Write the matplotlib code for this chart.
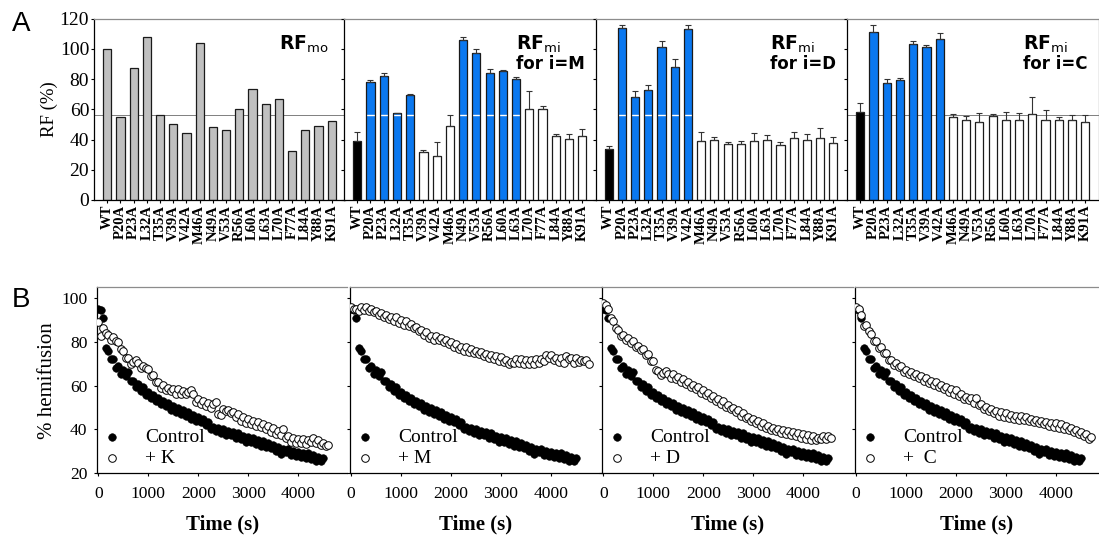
import matplotlib
matplotlib.use("Agg")
import matplotlib.pyplot as plt
import numpy as np

plt.rcParams['font.family'] = 'serif'
plt.rcParams['font.serif'] = ['Liberation Serif', 'DejaVu Serif']
plt.rcParams['mathtext.fontset'] = 'dejavusans'

# ---------------- panel A data ----------------
mutants = ['WT', 'P20A', 'P23A', 'L32A', 'T35A', 'V39A', 'V42A', 'M46A', 'N49A',
           'V53A', 'R56A', 'L60A', 'L63A', 'L70A', 'F77A', 'L84A', 'Y88A', 'K91A']

rf_mo = [100, 55, 87.5, 108, 56.5, 50.5, 44, 103.5, 48.5,
         46.5, 60, 73.5, 63.5, 66.5, 32.5, 46, 49, 52.5]

rf_m = [39.3, 78, 82, 57.3, 69.1, 32, 29.3, 48.9, 106,
        97.1, 84, 85.6, 80, 60, 60.2, 42.2, 40.4, 42.2]
rf_m_err = [5.6, 1.6, 2.0, 0.5, 1.3, 1.1, 9.1, 7.5, 2.0,
            2.7, 2.4, 0.3, 1.6, 11.8, 2.0, 1.4, 3.2, 4.9]
rf_m_kind = ['k', 'b', 'b', 'b', 'b', 'w', 'w', 'w', 'b',
             'b', 'b', 'b', 'b', 'w', 'w', 'w', 'w', 'w']

rf_d = [34, 114, 68.4, 72.9, 101, 87.8, 112.9, 39.1, 39.8,
        36.7, 36.7, 39.1, 39.8, 36.4, 40.7, 39.6, 41.3, 38]
rf_d_err = [1.6, 2.0, 3.6, 2.9, 4.0, 5.1, 2.7, 5.9, 1.8,
            1.5, 2.0, 5.1, 3.1, 1.8, 4.4, 4.0, 6.5, 3.6]
rf_d_kind = ['k', 'b', 'b', 'b', 'b', 'b', 'b', 'w', 'w',
             'w', 'w', 'w', 'w', 'w', 'w', 'w', 'w', 'w']

rf_c = [58.4, 110.9, 77.6, 79.3, 103.1, 101.1, 106.2, 54.7, 53.1,
        51.8, 55.6, 53.1, 53.1, 57.1, 52.7, 53.1, 53.1, 51.8]
rf_c_err = [5.6, 4.9, 2.2, 1.6, 1.8, 1.3, 4.0, 2.2, 2.5,
            5.8, 1.5, 5.3, 4.5, 11.3, 6.6, 1.6, 3.1, 4.4]
rf_c_kind = rf_d_kind

ref_level = 56

# ---------------- panel B data (% hemifusion, one point every 50 s) ----------------
dt = 50
control = [95, 94.5, 91, 77, 75.8, 72, 72.3, 68, 68.8, 65.5,
           67.2, 64.3, 66, 62, 62.3, 59.4, 60.8, 57.5, 59.2, 55.5,
           57.2, 54.5, 55.8, 53, 54.3, 51.4, 53.2, 50.5, 52.2, 49,
           50.8, 48, 49.8, 47, 48.8, 46, 47.8, 45, 46.8, 44,
           45.8, 43.4, 44.8, 42, 43.3, 40, 41.2, 39.5, 40.8, 38.5,
           40.2, 37.5, 39.2, 37.4, 38.8, 36, 38.2, 35.5, 37.2, 34.5,
           36.7, 34.4, 36.2, 33.5, 35.2, 32.5, 34.6, 32, 33.7, 31.4,
           32.7, 30, 32.2, 29, 31.2, 29.5, 31.2, 28.5, 30.2, 28,
           29.7, 27.4, 29.2, 27, 29.2, 26.5, 28.2, 25.6, 27.6, 25.6, 27]

plus_k = [89, 82.5, 86.5, 84, 83, 81, 82, 80.5, 80, 76.5,
          76, 72.5, 72.5, 70, 71, 71.5, 70.5, 68, 69, 68,
          67.5, 64.5, 65, 61.5, 61.5, 59, 60.5, 58, 59, 57.5,
          58.5, 56, 58.5, 56, 57.5, 56, 57, 58, 56, 52.5,
          54, 51.5, 53, 50.5, 52, 50, 51.5, 52.5, 47, 46.5,
          49.5, 48.5, 49, 47.5, 48, 45.5, 47, 44, 45.5, 43,
          45, 42.5, 44, 41.5, 43.5, 41, 42.5, 40, 41.5, 39,
          40.5, 38, 39.5, 37.5, 40, 36, 37, 34.5, 36, 34,
          35.5, 34, 35.5, 33.5, 35, 34.5, 36, 34, 35, 33, 34, 32.5, 33]

plus_m = [96, 95, 95, 94.2, 96, 94.5, 96, 94, 95, 93.8,
          94.2, 92.4, 93.3, 91.4, 92.3, 90.3, 91.5, 89.4, 91.2, 88.8,
          89.8, 87.8, 89.7, 87.3, 88.3, 86.2, 86.8, 84.8, 85.3, 83.3,
          84.3, 81.8, 82.8, 80.8, 82.8, 80.8, 81.8, 79.8, 80.8, 78.8,
          79.8, 77.8, 78.8, 76.8, 77.8, 75.8, 77.8, 75.3, 76.8, 74.8,
          75.8, 74.3, 75.3, 73.3, 74.3, 72.8, 73.8, 72.3, 73.3, 71.3,
          73.2, 70.8, 71.8, 69.8, 70.8, 70.2, 72.2, 70.3, 72.3, 69.8,
          71.8, 69.8, 71.8, 69.8, 72.3, 70.3, 72.3, 71.2, 73.8, 72.8,
          73.8, 71.8, 72.8, 70.8, 72.8, 70.3, 73.3, 72.2, 72.8, 70.3,
          72.8, 70.8, 71.8, 71.2, 71.8, 70]

plus_d = [97.5, 97, 95, 91, 89.5, 86.5, 85.5, 82.5, 83.3, 80.8,
          81.8, 79.3, 80.3, 77.8, 78.3, 76.3, 76.8, 73.8, 74.3, 71.3,
          71.3, 67.3, 66.8, 64.8, 65.8, 66.5, 65.3, 63.3, 65.3, 62.8,
          63.8, 61.8, 62.8, 60.8, 61.8, 59.3, 60.3, 58.3, 59.3, 56.8,
          57.8, 55.8, 56.8, 54.3, 55.3, 52.8, 53.8, 51.8, 52.8, 50.3,
          51.3, 49.3, 49.8, 47.8, 48.8, 46.3, 47.3, 45.3, 45.8, 43.8,
          44.8, 42.8, 43.8, 41.8, 42.8, 40.8, 41.8, 39.8, 40.8, 39.2,
          40.3, 38.3, 39.8, 37.8, 39.3, 37.3, 38.8, 36.8, 38.3, 36.3,
          37.8, 35.8, 37.3, 35.3, 37.2, 35.3, 36.3, 35.8, 36.8, 35.8, 36.8, 36]

plus_c = [96, 95, 92, 87, 87.5, 85, 83.5, 80.5, 80.3, 77.3,
          77.8, 74.8, 74.8, 71.8, 71.8, 69.3, 70.3, 68.3, 68.8, 66.3,
          67.3, 65.3, 66.3, 64.3, 65.3, 63.3, 64.3, 62.3, 63.3, 61.3,
          62.3, 60.3, 61.8, 59.3, 60.3, 58.3, 59.3, 57.3, 58.3, 56.3,
          57.8, 55.3, 56.3, 53.8, 54.8, 53.3, 54.3, 52.3, 54.3, 51.3,
          51.8, 49.3, 50.3, 48.3, 49.3, 47.3, 48.3, 46.3, 47.8, 45.8,
          47.3, 45.3, 46.8, 44.8, 46.3, 44.3, 46.3, 44.3, 45.8, 43.8,
          44.8, 43.3, 44.3, 42.8, 43.8, 42.3, 43.3, 41.8, 42.8, 41.3,
          42.8, 40.8, 42.3, 40.3, 41.8, 39.8, 40.8, 38.8, 39.8, 37.8,
          38.8, 36.8, 37.8, 35.8, 36.5]

treatments = [('+ K', plus_k), ('+ M', plus_m), ('+ D', plus_d), ('+  C', plus_c)]

# ---------------- layout (pixels of the 1099x538 picture) ----------------
W, H = 1099, 538
BLUE = '#0a78f0'
FACE = {'k': 'black', 'b': BLUE, 'w': 'white', 'g': '#c0c0c0'}

fig = plt.figure(figsize=(W / 100, H / 100), dpi=100)


# add an axes given its box in picture pixels
def px_axes(left, top, width, height):
    return fig.add_axes([left / W, 1 - (top + height) / H, width / W, height / H])


def style_spines(ax, right=False):
    ax.spines['top'].set_color('#8c8c8c')
    ax.spines['left'].set_color('black')
    ax.spines['bottom'].set_color('black')
    ax.spines['right'].set_visible(right)
    ax.spines['right'].set_color('#777777')
    for s in ax.spines.values():
        s.set_linewidth(0.9)


# one bar panel of A
def bar_panel(ax, values, kinds, err=None, white_line=False):
    x = np.arange(len(values))
    faces = [FACE[k] for k in kinds]
    if white_line:
        ax.bar(x, values, width=0.62, color=faces, linewidth=0, zorder=2)
        ax.axhline(ref_level, color='white', lw=1.0, zorder=2.5)
        ax.bar(x, values, width=0.62, fill=False, edgecolor='#1a1a1a', linewidth=0.9, zorder=3)
    else:
        ax.axhline(ref_level, color='#6a6a6a', lw=0.6, zorder=1)
        ax.bar(x, values, width=0.62, color=faces, edgecolor='#1a1a1a', linewidth=0.9, zorder=2)
    if err is not None:
        ax.errorbar(x, values, yerr=[np.zeros(len(err)), err], fmt='none', ecolor='#333333',
                    elinewidth=0.8, capsize=2.3, capthick=0.8, zorder=4)
    ax.set_xlim(-1, len(values))
    ax.set_ylim(0, 120)
    ax.set_yticks(np.arange(0, 121, 20))
    ax.set_xticks(x)
    ax.set_xticklabels(mutants, rotation=90, fontsize=10.5, fontweight='bold')
    ax.tick_params(axis='x', direction='out', length=2, pad=1.5, width=0.8)
    ax.tick_params(axis='y', direction='out', length=2.5, pad=1, width=0.8, labelsize=14)


def panel_title(ax, x, sub, second=None):
    ax.text(x, 0.83, r'$\mathbf{RF}_{\mathrm{%s}}$' % sub, transform=ax.transAxes,
            fontsize=13.5, family='DejaVu Sans', va='baseline')
    if second:
        ax.text(x, 0.72, second, transform=ax.transAxes, fontsize=12,
                family='DejaVu Sans', fontweight='bold', va='baseline')


top_boxes = [(94, 251), (344, 251.5), (595.5, 251), (847, 251.5)]
top_y, top_h = 18.5, 181.5

ax1 = px_axes(top_boxes[0][0], top_y, top_boxes[0][1], top_h)
bar_panel(ax1, rf_mo, ['g'] * len(rf_mo))
style_spines(ax1)
ax1.set_ylabel('RF (%)', fontsize=13.5, labelpad=1)
panel_title(ax1, 0.736, 'mo')

panels = [(rf_m, rf_m_err, rf_m_kind, True, 'for i=M', 0.684),
          (rf_d, rf_d_err, rf_d_kind, True, 'for i=D', 0.695),
          (rf_c, rf_c_err, rf_c_kind, False, 'for i=C', 0.70)]
for i, (vals, err, kinds, wl, lab, tx) in enumerate(panels):
    left, width = top_boxes[i + 1]
    ax = px_axes(left, top_y, width, top_h)
    bar_panel(ax, vals, kinds, err=err, white_line=wl)
    ax.set_yticklabels([])
    style_spines(ax, right=(i == 2))
    if i == 2:
        ax.tick_params(axis='y', which='both', right=True)
    panel_title(ax, tx, 'mi', lab)

# ---------------- panel B ----------------
bot_boxes = [(97.3, 250), (350, 251), (602.3, 251), (855, 244)]
bot_y, bot_h = 287, 186.3

t_control = np.arange(len(control)) * dt
for i, (lab, series) in enumerate(treatments):
    left, width = bot_boxes[i]
    ax = px_axes(left, bot_y, width, bot_h)
    t_series = np.arange(len(series)) * dt
    h1 = ax.scatter(t_control, control, s=30, c='black', edgecolors='black',
                    linewidths=0.4, zorder=3)
    h2 = ax.scatter(t_series, series, s=30, facecolors='white', edgecolors='black',
                    linewidths=0.7, zorder=4)
    ax.set_xlim(-20, -20 + width * 20)
    ax.set_ylim(20, 105)
    ax.set_xticks(np.arange(0, 4001, 1000))
    ax.set_yticks(np.arange(20, 101, 20))
    ax.tick_params(axis='x', direction='out', length=2.5, pad=6.5, width=0.8, labelsize=12.6)
    ax.tick_params(axis='y', direction='out', length=2.5, pad=4.5, width=0.8, labelsize=12.6)
    style_spines(ax)
    ax.set_xlabel('Time (s)', fontsize=15, fontweight='bold', labelpad=9)
    if i == 0:
        ax.set_ylabel('% hemifusion', fontsize=15, labelpad=3)
    else:
        ax.set_yticklabels([])
    ax.legend([h1, h2], ['Control', lab], loc='lower left', frameon=False, fontsize=14,
              handlelength=0.9, handletextpad=1.26, borderaxespad=0.1, borderpad=0.2,
              labelspacing=0.2, scatterpoints=1)

fig.text(12 / W, 1 - 31 / H, 'A', fontsize=20, family='Liberation Sans')
fig.text(12 / W, 1 - 307 / H, 'B', fontsize=20, family='Liberation Sans')

fig.savefig('out.png', dpi=100)
